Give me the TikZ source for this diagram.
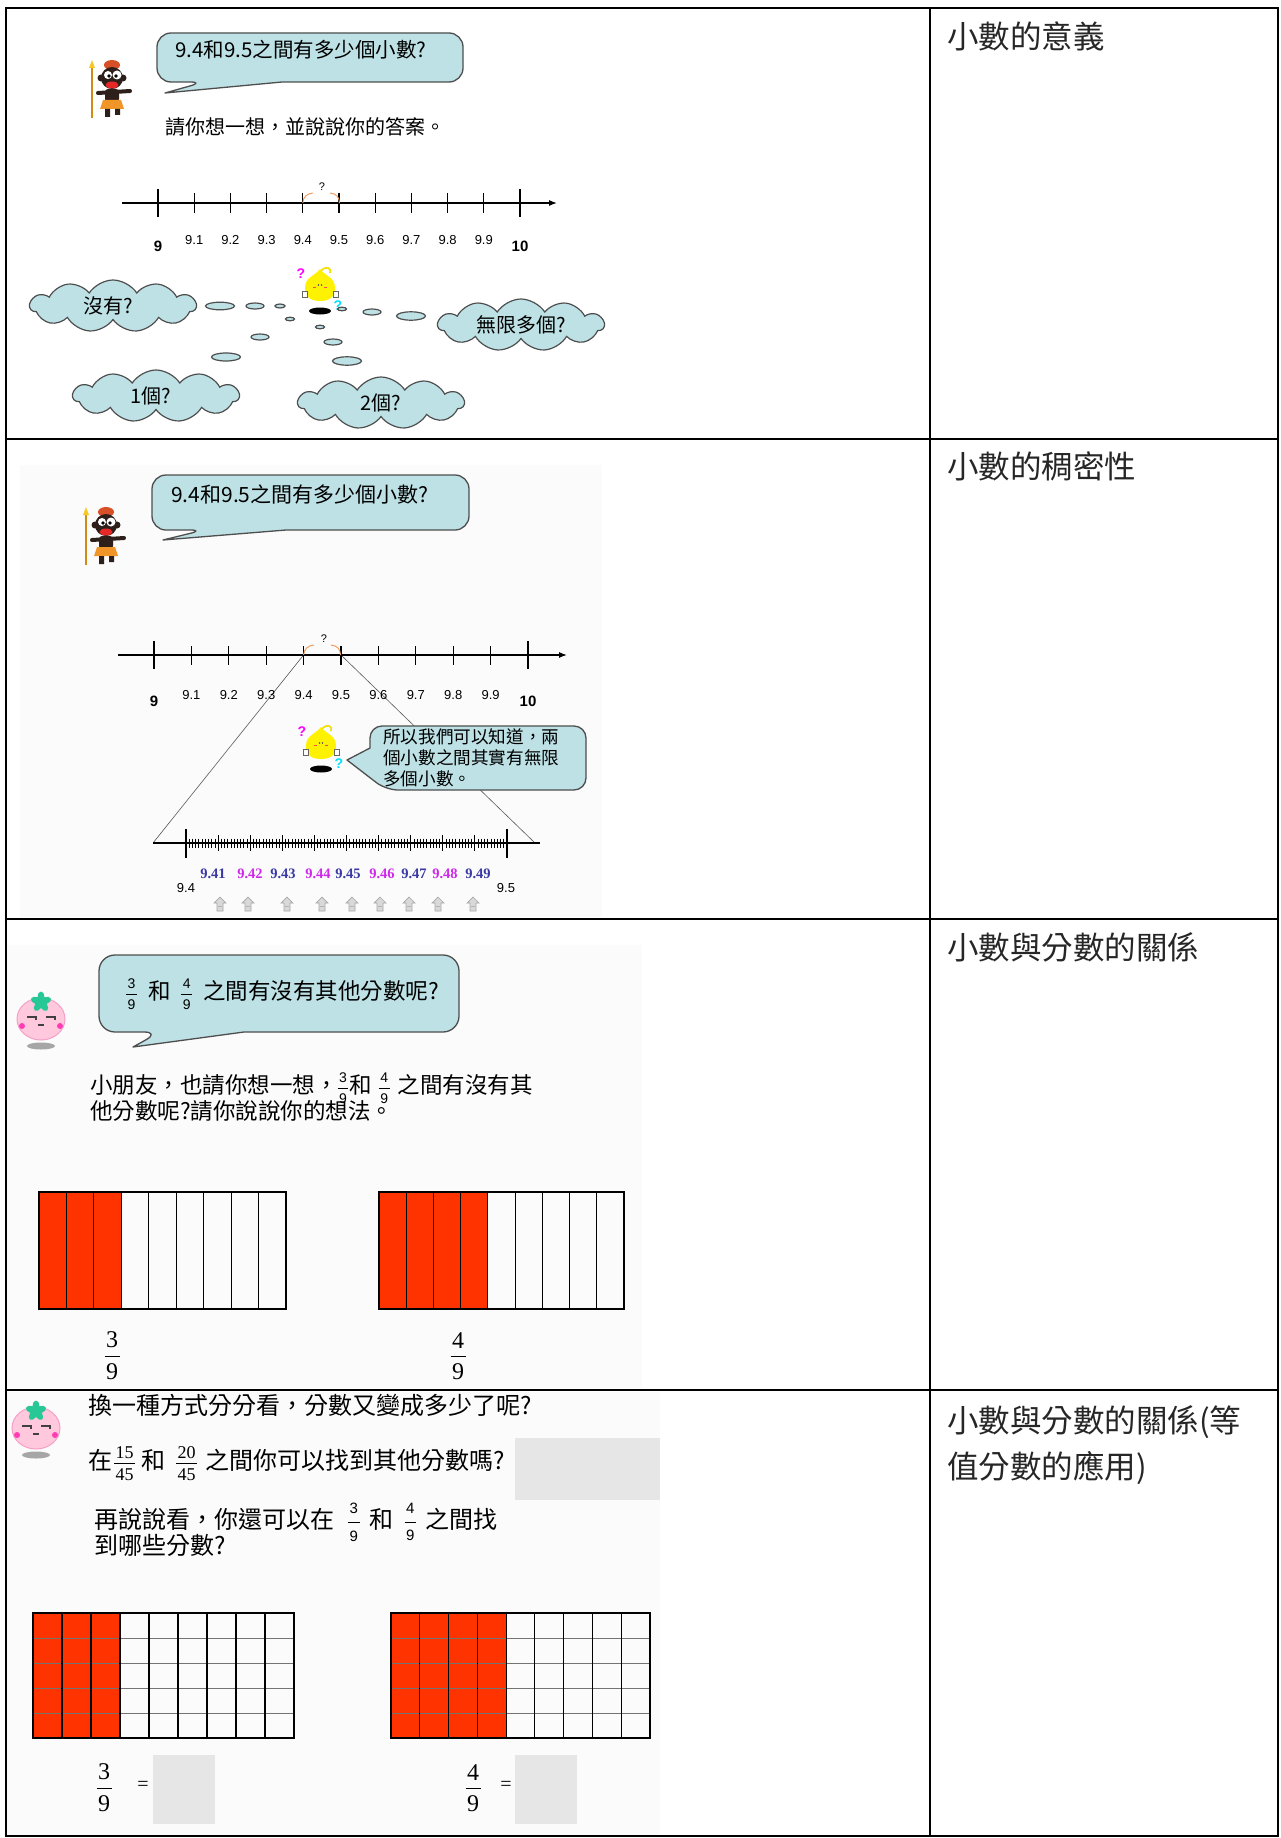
\documentclass[tikz,border=0pt]{standalone}
\usepackage{fontspec}
\setmainfont{Liberation Serif}
\newfontfamily\cjk{Noto Sans CJK TC}
\newfontfamily\numsans{Liberation Sans}
\newfontfamily\numserif{Liberation Serif}
\usetikzlibrary{shapes.symbols,arrows.meta,calc}

\newcommand\setfs[1]{\fontsize{#1}{#1}\selectfont}
% stacked fraction: font, gap around the bar, numerator, denominator
\newcommand\fr[4]{\ensuremath{\vcenter{\offinterlineskip\halign{\hfil\kern1.5pt##\kern1.5pt\hfil\cr
  #1#3\cr\noalign{\kern#2\hrule height .7pt\kern#2}
  #1#4\cr}}}}

\definecolor{bub}{RGB}{189,225,229}
\definecolor{bubline}{RGB}{78,78,78}
\definecolor{redc}{RGB}{255,51,0}
\definecolor{boxg}{RGB}{230,230,230}
\definecolor{lblue}{RGB}{58,58,165}
\definecolor{lmag}{RGB}{205,40,235}
\definecolor{arcc}{RGB}{240,160,100}
\definecolor{shotbg}{RGB}{251,251,251}
\definecolor{skin}{RGB}{45,32,26}
\definecolor{pinkhead}{RGB}{255,200,220}
\definecolor{pinkline}{RGB}{245,160,200}
\definecolor{cheek}{RGB}{255,60,180}
\definecolor{leaf}{RGB}{40,200,150}
\definecolor{spear}{RGB}{210,140,20}
\definecolor{speartip}{RGB}{245,200,40}
\definecolor{hair}{RGB}{215,80,40}
\definecolor{mouth}{RGB}{230,40,40}
\definecolor{skirt}{RGB}{240,150,40}
\definecolor{lemonc}{RGB}{255,242,0}
\definecolor{curlc}{RGB}{240,225,0}
\definecolor{qmag}{RGB}{255,0,255}
\definecolor{qcyan}{RGB}{0,225,255}

\tikzset{
  bubble/.style={fill=bub,draw=bubline,line width=1.3pt,line join=round},
  stone/.style={fill=bub,draw=bubline,line width=1.2pt},
  cloudbox/.style={cloud,cloud puffs=11,cloud puff arc=115,cloud ignores aspect,
    fill=bub,draw=bubline,line width=1.2pt,font=\cjk\setfs{20},inner sep=0pt},
  txt/.style={anchor=west,inner sep=0pt,text height=.95em,text depth=.05em},
  lab/.style={inner sep=0pt,font=\numsans\setfs{13}},
  blab/.style={inner sep=0pt,font=\numsans\bfseries\setfs{15}},
  axisline/.style={line width=1.2pt,-{Latex[length=8pt,width=6pt]}},
  tickline/.style={line width=1.1pt},
  arcq/.style={arcc,line width=1pt},
  side/.style={anchor=west,inner sep=0pt,font=\cjk\setfs{31.5},text=black!85},
  tbl/.style={line width=2pt,black},
  kid/.pic={
    \draw[line width=1.3pt,spear] (4,6) -- (4,58);
    \fill[speartip] (4,0) -- (7,8) -- (1,8) -- cycle;
    \fill[hair] (24,5) ellipse [x radius=8pt,y radius=5pt];
    \fill[skin] (13,18) circle [radius=3.5pt] (35,18) circle [radius=3.5pt];
    \fill[skin] (24,18) circle [radius=11pt];
    \fill[white] (20,15) circle [radius=4pt] (29,15) circle [radius=4.5pt];
    \fill[black] (21,16) circle [radius=1.8pt] (28,16) circle [radius=1.8pt];
    \fill[mouth] (24,25) ellipse [x radius=6.5pt,y radius=3.5pt];
    \draw[skin,line width=4pt,line cap=round] (10,33) -- (42,31);
    \fill[skin,rounded corners=3pt] (17,29) rectangle (31,42);
    \fill[skirt] (15,40) -- (33,40) -- (36,49) -- (12,49) -- cycle;
    \fill[skin] (17,49) rectangle (22,57) (27,49) rectangle (32,55);
  },
  lemon/.pic={
    \fill[lemonc] (0,-17) .. controls (5,-10) and (15,-9) .. (15,2)
      .. controls (15,12) and (8,15) .. (0,15) .. controls (-8,15) and (-15,12) .. (-15,2)
      .. controls (-15,-9) and (-5,-10) .. cycle;
    \draw[curlc,line width=1.6pt] (1,-15) .. controls (6,-21) and (12,-18) .. (10,-13);
    \draw[red!70,line width=.8pt] (-7,1) -- (-4,1) (4,1) -- (7,1);
    \fill[black!70] (-1.5,-1) circle [radius=.8pt] (1.5,-1) circle [radius=.8pt];
    \filldraw[fill=white,draw=black!60,line width=.7pt] (-18,5) rectangle (-13,11) (13,5) rectangle (18,11);
    \node[inner sep=0pt,font=\numsans\bfseries\setfs{14},text=qmag] at (-19,-12) {?};
    \node[inner sep=0pt,font=\numsans\bfseries\setfs{14},text=qcyan] at (18,20) {?};
    \fill[black] (0,25) ellipse [x radius=11pt,y radius=3.5pt];
  },
  tomato/.pic={
    \fill[black!35] (0,27) ellipse [x radius=14pt,y radius=3.5pt];
    \filldraw[fill=pinkhead,draw=pinkline,line width=1pt] (0,0) ellipse [x radius=24pt,y radius=21pt];
    \foreach \a in {0,72,...,288}
      \fill[leaf,rotate around={\a:(0,-17)}] (0,-22) ellipse [x radius=3.5pt,y radius=5.5pt];
    \fill[leaf] (0,-17) circle [radius=3.5pt];
    \draw[black!75,line width=1.2pt] (-14,-2) -- (-5,-2) -- (-5,1) (5,-2) -- (14,-2) -- (14,1) (-3,6) -- (3,6);
    \fill[cheek] (-19,7) circle [radius=3pt] (19,7) circle [radius=3pt];
  },
  uparr/.pic={
    \filldraw[fill=black!15,draw=black!35,line width=.7pt] (0,-7) -- (6,-1) -- (3,-1) -- (3,7) -- (-3,7) -- (-3,-1) -- (-6,-1) -- cycle;
    \draw[black!30,line width=.6pt] (-2,2) -- (2,2);
  },
}

\begin{document}
\begin{tikzpicture}[x=1pt,y=-1pt]
\useasboundingbox (0,0) rectangle (1280,1838);
\fill[white] (0,0) rectangle (1280,1838);

% faint backgrounds of the lesson slides
\fill[shotbg] (20,465) rectangle (602,917);
\fill[shotbg] (7,945) rectangle (642,1388);
\fill[shotbg] (7,1392) rectangle (660,1835);

%================ row 1 : meaning of decimals
\draw[bubble] (165,93) -- (282,82) [rounded corners=14pt] -- (463,82) -- (463,33) -- (157,33) -- (157,82) -- (204,82) [sharp corners] -- cycle;
\node[txt,font=\cjk\setfs{20.5}] (q1) at (175,53) {9.4和9.5之間有多少個小數?};
\pic at (88,60) {kid};
\node[txt,font=\cjk\setfs{20}] (ask1) at (165,130) {請你想一想，並說說你的答案。};

\coordinate (n1s) at (122,203);
\coordinate (n1e) at (557,203);
\draw[axisline] (n1s) -- (n1e);
\foreach \k in {1,...,9}{
  \draw[tickline] ({158+36.2*\k},193) -- ({158+36.2*\k},213);
  \node[lab] (n1l\k) at ({158+36.2*\k},240) {9.\k};
}
\draw[tickline] (158,189) -- (158,217) (520,189) -- (520,217);
\node[blab] (n1l0) at (158,246) {9};
\node[blab] (n1l10) at (520,246) {10};
\draw[arcq] (302.8,203) .. controls (303,197) and (307,193.5) .. (313,193);
\draw[arcq] (330,193) .. controls (336,193.5) and (339.5,197) .. (339.5,203);
\node[inner sep=0pt,font=\numsans\setfs{11}] (n1q) at (322,187) {?};

\pic at (320,286) {lemon};
\foreach \x/\y/\rx/\ry in {220/306/14.5/3.8, 255/306/9/3, 280/306/5/2, 290/319/4.5/1.8,
  260/337/9/3, 226/357/14.5/4, 320/327/4.5/1.8, 333/342/9/3, 347/361/14.5/4.2,
  342/309/4.5/1.8, 372/312/9/3, 411/316/14.5/4.2}
  \draw[stone] (\x,\y) ellipse [x radius=\rx pt,y radius=\ry pt];

\node[cloudbox,minimum width=166pt,minimum height=52pt] (c1) at (113,306) {\hspace*{-10pt}沒有?};
\node[cloudbox,minimum width=166pt,minimum height=52pt] (c2) at (521,325) {無限多個?};
\node[cloudbox,minimum width=166pt,minimum height=52pt] (c3) at (156,396) {\hspace*{-10pt}1個?};
\node[cloudbox,minimum width=166pt,minimum height=52pt] (c4) at (381,403) {2個?};

%================ row 2 : density of decimals
\draw[bubble] (163,540) -- (286,530) [rounded corners=14pt] -- (469,530) -- (469,475) -- (152,475) -- (152,530) -- (204,530) [sharp corners] -- cycle;
\node[txt,font=\cjk\setfs{21}] (q2) at (171,498) {9.4和9.5之間有多少個小數?};
\pic at (82,507) {kid};

\coordinate (n2s) at (118,655);
\coordinate (n2e) at (567,655);
\coordinate (t94) at (303.6,655);
\coordinate (t95) at (341,655);
\coordinate (z0) at (153,843);
\coordinate (z1) at (540,843);
\draw[black!65,line width=.6pt] (t94) -- (z0);
\draw[black!65,line width=.6pt] (t95) -- ($(z1)+(-5,0)$);
\draw[axisline] (n2s) -- (n2e);
\foreach \k in {1,...,9}{
  \draw[tickline] ({154+37.4*\k},646) -- ({154+37.4*\k},665);
  \node[lab] (n2l\k) at ({154+37.4*\k},695) {9.\k};
}
\draw[tickline] (154,641) -- (154,669) (528,641) -- (528,669);
\node[blab] (n2l0) at (154,701) {9};
\node[blab] (n2l10) at (528,701) {10};
\draw[arcq] (303.6,655) .. controls (304,649) and (308,645.5) .. (314,645);
\draw[arcq] (331,645) .. controls (337,645.5) and (340.5,649) .. (340.5,655);
\node[inner sep=0pt,font=\numsans\setfs{11}] (n2q) at (324,639) {?};

% magnified part from 9.4 to 9.5
\draw[line width=1.1pt] (z0) -- (z1);
\foreach \i in {1,...,99}{
  \pgfmathtruncatemacro\r{mod(\i,10)}
  \ifnum\r=0
    \draw[line width=1pt] ({186+3.21*\i},835) -- ({186+3.21*\i},851);
  \else
    \draw[line width=.7pt] ({186+3.21*\i},838.5) -- ({186+3.21*\i},847.5);
  \fi
}
\draw[line width=1.2pt] (186,829) -- (186,858) (507,829) -- (507,858);
\node[lab] (z94) at (186,888) {9.4};
\node[lab] (z95) at (506,888) {9.5};
\foreach \x/\v/\c in {213/41/lblue,250/42/lmag,283/43/lblue,318/44/lmag,348/45/lblue,
  382/46/lmag,414/47/lblue,445/48/lmag,478/49/lblue}
  \node[inner sep=0pt,font=\numserif\bfseries\setfs{14.5},text=\c] (zl\v) at (\x,874) {9.\v};
\foreach \x in {220,248,287,322,352,380,409,438,473}
  \pic at (\x,904) {uparr};

\pic at (321,744) {lemon};
\draw[bubble] (347,760) -- (370,748) [rounded corners=12pt] -- (370,726) -- (586,726) -- (586,790) -- (386,790) [sharp corners] -- cycle;
\node[txt,font=\cjk\setfs{17.6}] (a2a) at (383,739) {所以我們可以知道，兩};
\node[txt,font=\cjk\setfs{17.6}] (a2b) at (383,760) {個小數之間其實有無限};
\node[txt,font=\cjk\setfs{17.6}] (a2c) at (383,781) {多個小數。};

%================ row 3 : decimals and fractions
\draw[bubble] (133,1047) -- (244,1032) [rounded corners=16pt] -- (459,1032) -- (459,955) -- (99,955) -- (99,1032) -- (160,1032) [sharp corners] -- cycle;
\node[txt,font=\cjk\setfs{22.5}] (q3) at (126,995)
  {\fr{\numsans\setfs{14}}{5pt}{3}{9}\hspace{12pt}和\hspace{10pt}\fr{\numsans\setfs{14}}{5pt}{4}{9}\hspace{11pt}之間有沒有其他分數呢?};
\pic at (41,1019) {tomato};
\node[txt,font=\cjk\setfs{22.5}] (p3a) at (90,1089)
  {小朋友，也請你想一想，\fr{\numsans\setfs{14}}{5pt}{3}{9}\hspace{1pt}和\hspace{7pt}\fr{\numsans\setfs{14}}{5pt}{4}{9}\hspace{8pt}之間有沒有其};
\node[txt,font=\cjk\setfs{22.5}] (p3b) at (90,1115) {他分數呢?請你說說你的想法。};

% 3/9 strip
\fill[redc] (39,1192) rectangle ({39+3*247/9},1309);
\foreach \k in {1,...,8} \draw[line width=1.2pt] ({39+\k*247/9},1192) -- ({39+\k*247/9},1309);
\draw[line width=1.4pt] (39,1192) rectangle (286,1309);
% 4/9 strip
\fill[redc] (379,1192) rectangle ({379+4*245/9},1309);
\foreach \k in {1,...,8} \draw[line width=1.2pt] ({379+\k*245/9},1192) -- ({379+\k*245/9},1309);
\draw[line width=1.4pt] (379,1192) rectangle (624,1309);
\node[inner sep=0pt] (f3a) at (112,1356) {\fr{\numserif\setfs{24}}{7.5pt}{3}{9}};
\node[inner sep=0pt] (f3b) at (458,1356) {\fr{\numserif\setfs{24}}{7.5pt}{4}{9}};

%================ row 4 : equivalent fractions
\pic at (36,1428) {tomato};
\node[txt,font=\cjk\setfs{24}] (t4a) at (88,1410) {換一種方式分分看，分數又變成多少了呢?};
\node[txt,font=\cjk\setfs{24}] (t4b) at (88,1465)
  {在\hspace{2pt}\fr{\numserif\setfs{18}}{4.5pt}{15}{45}\hspace{6pt}和\hspace{11pt}\fr{\numserif\setfs{18}}{4.5pt}{20}{45}\hspace{8pt}之間你可以找到其他分數嗎?};
\fill[boxg] (515,1438) rectangle (660,1500);
\node[txt,font=\cjk\setfs{24}] (t4c) at (94,1524)
  {再說說看，你還可以在\hspace{14pt}\fr{\numsans\setfs{15}}{8pt}{3}{9}\hspace{10pt}和\hspace{11pt}\fr{\numsans\setfs{15}}{8pt}{4}{9}\hspace{10pt}之間找};
\node[txt,font=\cjk\setfs{24}] (t4d) at (94,1550) {到哪些分數?};

% 15/45 grid
\fill[redc] (33,1613) rectangle ({33+3*261/9},1738);
\foreach \r in {1,...,4} \draw[black!55,line width=1pt] (33,{1613+\r*25}) -- (294,{1613+\r*25});
\foreach \k in {1,...,8} \draw[line width=1.2pt] ({33+\k*261/9},1613) -- ({33+\k*261/9},1738);
\draw[line width=1.4pt] (33,1613) rectangle (294,1738);
% 20/45 grid
\fill[redc] (391,1613) rectangle ({391+4*259/9},1738);
\foreach \r in {1,...,4} \draw[black!55,line width=1pt] (391,{1613+\r*25}) -- (650,{1613+\r*25});
\foreach \k in {1,...,8} \draw[line width=1.2pt] ({391+\k*259/9},1613) -- ({391+\k*259/9},1738);
\draw[line width=1.4pt] (391,1613) rectangle (650,1738);

\node[inner sep=0pt] (f4a) at (104,1788) {\fr{\numserif\setfs{24}}{7.5pt}{3}{9}};
\node[inner sep=0pt,font=\numserif\setfs{20}] (e4a) at (143,1786) {=};
\fill[boxg] (153,1755) rectangle (215,1824);
\node[inner sep=0pt] (f4b) at (473,1788) {\fr{\numserif\setfs{24}}{7.5pt}{4}{9}};
\node[inner sep=0pt,font=\numserif\setfs{20}] (e4b) at (506,1786) {=};
\fill[boxg] (515,1755) rectangle (577,1824);

%================ topic column
\node[side] (s1) at (947,36) {小數的意義};
\node[side] (s2) at (947,466) {小數的稠密性};
\node[side] (s3) at (947,947) {小數與分數的關係};
\node[side] (s4a) at (947,1422) {小數與分數的關係(等};
\node[side] (s4b) at (947,1468) {值分數的應用)};

%================ table rules
\draw[tbl] (6,8) rectangle (1278,1836);
\draw[tbl] (930,8) -- (930,1836);
\draw[tbl] (6,439) -- (1278,439);
\draw[tbl] (6,919) -- (1278,919);
\draw[tbl] (6,1390) -- (1278,1390);
\end{tikzpicture}
\end{document}
